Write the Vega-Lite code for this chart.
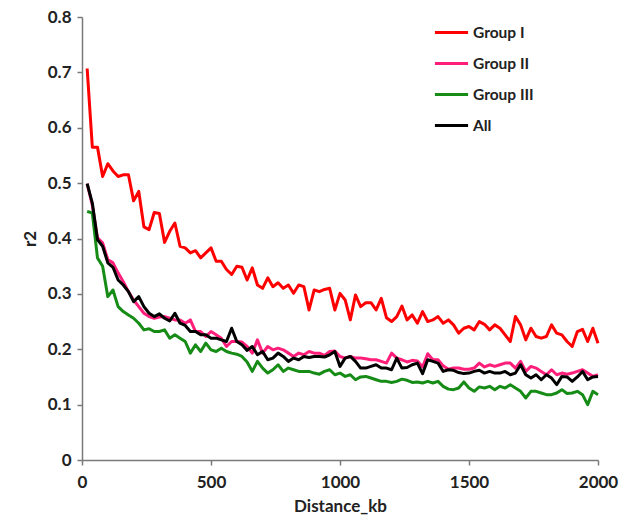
{
  "$schema": "https://vega.github.io/schema/vega-lite/v6.json",
  "autosize": {"type": "none"},
  "width": 516,
  "height": 443,
  "padding": {"left": 82, "top": 17, "right": 23, "bottom": 66},
  "background": "white",
  "config": {
    "view": {"stroke": null},
    "font": "Lato",
    "axis": {
      "grid": false,
      "domainColor": "#7a7a7a",
      "domainWidth": 1.5,
      "tickColor": "#7a7a7a",
      "tickWidth": 1.5,
      "tickSize": 5,
      "labelFont": "Lato",
      "labelFontWeight": "bold",
      "labelFontSize": 17,
      "labelColor": "#222222",
      "titleFont": "Lato",
      "titleFontWeight": "bold",
      "titleFontSize": 17,
      "titleColor": "#222222"
    },
    "legend": {
      "labelFont": "Lato",
      "labelFontWeight": "bold",
      "labelFontSize": 15.5,
      "labelColor": "#222222"
    }
  },
  "data": {
    "values": [
      {"d": 20, "Group I": 0.707, "Group II": 0.499, "Group III": 0.449, "All": 0.499},
      {"d": 40, "Group I": 0.565, "Group II": 0.460, "Group III": 0.446, "All": 0.464},
      {"d": 60, "Group I": 0.565, "Group II": 0.401, "Group III": 0.365, "All": 0.398},
      {"d": 80, "Group I": 0.512, "Group II": 0.392, "Group III": 0.350, "All": 0.386},
      {"d": 100, "Group I": 0.535, "Group II": 0.362, "Group III": 0.295, "All": 0.356},
      {"d": 120, "Group I": 0.522, "Group II": 0.356, "Group III": 0.307, "All": 0.348},
      {"d": 140, "Group I": 0.512, "Group II": 0.338, "Group III": 0.277, "All": 0.325},
      {"d": 160, "Group I": 0.515, "Group II": 0.322, "Group III": 0.268, "All": 0.316},
      {"d": 180, "Group I": 0.515, "Group II": 0.304, "Group III": 0.262, "All": 0.304},
      {"d": 200, "Group I": 0.468, "Group II": 0.289, "Group III": 0.256, "All": 0.286},
      {"d": 220, "Group I": 0.485, "Group II": 0.277, "Group III": 0.247, "All": 0.295},
      {"d": 240, "Group I": 0.421, "Group II": 0.265, "Group III": 0.235, "All": 0.277},
      {"d": 260, "Group I": 0.416, "Group II": 0.259, "Group III": 0.237, "All": 0.265},
      {"d": 280, "Group I": 0.447, "Group II": 0.256, "Group III": 0.232, "All": 0.259},
      {"d": 300, "Group I": 0.445, "Group II": 0.258, "Group III": 0.232, "All": 0.264},
      {"d": 320, "Group I": 0.393, "Group II": 0.259, "Group III": 0.235, "All": 0.256},
      {"d": 340, "Group I": 0.413, "Group II": 0.256, "Group III": 0.220, "All": 0.251},
      {"d": 360, "Group I": 0.428, "Group II": 0.253, "Group III": 0.226, "All": 0.265},
      {"d": 380, "Group I": 0.386, "Group II": 0.253, "Group III": 0.220, "All": 0.247},
      {"d": 400, "Group I": 0.383, "Group II": 0.247, "Group III": 0.214, "All": 0.243},
      {"d": 420, "Group I": 0.374, "Group II": 0.253, "Group III": 0.193, "All": 0.232},
      {"d": 440, "Group I": 0.378, "Group II": 0.232, "Group III": 0.208, "All": 0.232},
      {"d": 460, "Group I": 0.365, "Group II": 0.232, "Group III": 0.196, "All": 0.226},
      {"d": 480, "Group I": 0.374, "Group II": 0.223, "Group III": 0.211, "All": 0.226},
      {"d": 500, "Group I": 0.383, "Group II": 0.232, "Group III": 0.199, "All": 0.220},
      {"d": 520, "Group I": 0.359, "Group II": 0.226, "Group III": 0.196, "All": 0.220},
      {"d": 540, "Group I": 0.359, "Group II": 0.220, "Group III": 0.202, "All": 0.217},
      {"d": 560, "Group I": 0.344, "Group II": 0.205, "Group III": 0.196, "All": 0.214},
      {"d": 580, "Group I": 0.335, "Group II": 0.214, "Group III": 0.193, "All": 0.238},
      {"d": 600, "Group I": 0.350, "Group II": 0.214, "Group III": 0.191, "All": 0.214},
      {"d": 620, "Group I": 0.348, "Group II": 0.213, "Group III": 0.187, "All": 0.208},
      {"d": 640, "Group I": 0.325, "Group II": 0.205, "Group III": 0.177, "All": 0.198},
      {"d": 660, "Group I": 0.347, "Group II": 0.193, "Group III": 0.160, "All": 0.205},
      {"d": 680, "Group I": 0.316, "Group II": 0.217, "Group III": 0.178, "All": 0.190},
      {"d": 700, "Group I": 0.310, "Group II": 0.193, "Group III": 0.166, "All": 0.196},
      {"d": 720, "Group I": 0.329, "Group II": 0.205, "Group III": 0.157, "All": 0.181},
      {"d": 740, "Group I": 0.313, "Group II": 0.199, "Group III": 0.163, "All": 0.184},
      {"d": 760, "Group I": 0.320, "Group II": 0.202, "Group III": 0.172, "All": 0.193},
      {"d": 780, "Group I": 0.310, "Group II": 0.199, "Group III": 0.160, "All": 0.187},
      {"d": 800, "Group I": 0.316, "Group II": 0.193, "Group III": 0.166, "All": 0.178},
      {"d": 820, "Group I": 0.301, "Group II": 0.187, "Group III": 0.163, "All": 0.184},
      {"d": 840, "Group I": 0.316, "Group II": 0.193, "Group III": 0.160, "All": 0.181},
      {"d": 860, "Group I": 0.313, "Group II": 0.190, "Group III": 0.160, "All": 0.187},
      {"d": 880, "Group I": 0.271, "Group II": 0.196, "Group III": 0.160, "All": 0.185},
      {"d": 900, "Group I": 0.307, "Group II": 0.193, "Group III": 0.157, "All": 0.187},
      {"d": 920, "Group I": 0.304, "Group II": 0.193, "Group III": 0.155, "All": 0.187},
      {"d": 940, "Group I": 0.308, "Group II": 0.189, "Group III": 0.160, "All": 0.186},
      {"d": 960, "Group I": 0.310, "Group II": 0.196, "Group III": 0.163, "All": 0.190},
      {"d": 980, "Group I": 0.271, "Group II": 0.197, "Group III": 0.154, "All": 0.196},
      {"d": 1000, "Group I": 0.301, "Group II": 0.187, "Group III": 0.157, "All": 0.169},
      {"d": 1020, "Group I": 0.289, "Group II": 0.184, "Group III": 0.151, "All": 0.184},
      {"d": 1040, "Group I": 0.253, "Group II": 0.187, "Group III": 0.154, "All": 0.187},
      {"d": 1060, "Group I": 0.298, "Group II": 0.184, "Group III": 0.145, "All": 0.178},
      {"d": 1080, "Group I": 0.277, "Group II": 0.184, "Group III": 0.150, "All": 0.166},
      {"d": 1100, "Group I": 0.284, "Group II": 0.183, "Group III": 0.151, "All": 0.166},
      {"d": 1120, "Group I": 0.284, "Group II": 0.181, "Group III": 0.148, "All": 0.169},
      {"d": 1140, "Group I": 0.271, "Group II": 0.181, "Group III": 0.145, "All": 0.172},
      {"d": 1160, "Group I": 0.292, "Group II": 0.178, "Group III": 0.142, "All": 0.166},
      {"d": 1180, "Group I": 0.257, "Group II": 0.175, "Group III": 0.142, "All": 0.166},
      {"d": 1200, "Group I": 0.250, "Group II": 0.193, "Group III": 0.140, "All": 0.163},
      {"d": 1220, "Group I": 0.259, "Group II": 0.184, "Group III": 0.142, "All": 0.184},
      {"d": 1240, "Group I": 0.278, "Group II": 0.181, "Group III": 0.146, "All": 0.166},
      {"d": 1260, "Group I": 0.253, "Group II": 0.177, "Group III": 0.144, "All": 0.167},
      {"d": 1280, "Group I": 0.262, "Group II": 0.180, "Group III": 0.140, "All": 0.172},
      {"d": 1300, "Group I": 0.247, "Group II": 0.179, "Group III": 0.141, "All": 0.175},
      {"d": 1320, "Group I": 0.268, "Group II": 0.168, "Group III": 0.139, "All": 0.156},
      {"d": 1340, "Group I": 0.250, "Group II": 0.192, "Group III": 0.142, "All": 0.181},
      {"d": 1360, "Group I": 0.253, "Group II": 0.181, "Group III": 0.139, "All": 0.178},
      {"d": 1380, "Group I": 0.259, "Group II": 0.181, "Group III": 0.142, "All": 0.175},
      {"d": 1400, "Group I": 0.247, "Group II": 0.170, "Group III": 0.133, "All": 0.160},
      {"d": 1420, "Group I": 0.253, "Group II": 0.164, "Group III": 0.128, "All": 0.163},
      {"d": 1440, "Group I": 0.244, "Group II": 0.166, "Group III": 0.127, "All": 0.162},
      {"d": 1460, "Group I": 0.229, "Group II": 0.166, "Group III": 0.130, "All": 0.158},
      {"d": 1480, "Group I": 0.238, "Group II": 0.164, "Group III": 0.141, "All": 0.156},
      {"d": 1500, "Group I": 0.241, "Group II": 0.164, "Group III": 0.130, "All": 0.157},
      {"d": 1520, "Group I": 0.235, "Group II": 0.166, "Group III": 0.124, "All": 0.160},
      {"d": 1540, "Group I": 0.250, "Group II": 0.175, "Group III": 0.132, "All": 0.162},
      {"d": 1560, "Group I": 0.245, "Group II": 0.168, "Group III": 0.130, "All": 0.157},
      {"d": 1580, "Group I": 0.235, "Group II": 0.172, "Group III": 0.133, "All": 0.160},
      {"d": 1600, "Group I": 0.244, "Group II": 0.169, "Group III": 0.127, "All": 0.157},
      {"d": 1620, "Group I": 0.238, "Group II": 0.172, "Group III": 0.133, "All": 0.157},
      {"d": 1640, "Group I": 0.226, "Group II": 0.175, "Group III": 0.130, "All": 0.160},
      {"d": 1660, "Group I": 0.214, "Group II": 0.175, "Group III": 0.136, "All": 0.154},
      {"d": 1680, "Group I": 0.259, "Group II": 0.166, "Group III": 0.130, "All": 0.157},
      {"d": 1700, "Group I": 0.244, "Group II": 0.178, "Group III": 0.124, "All": 0.172},
      {"d": 1720, "Group I": 0.217, "Group II": 0.160, "Group III": 0.112, "All": 0.154},
      {"d": 1740, "Group I": 0.238, "Group II": 0.169, "Group III": 0.124, "All": 0.148},
      {"d": 1760, "Group I": 0.223, "Group II": 0.166, "Group III": 0.124, "All": 0.154},
      {"d": 1780, "Group I": 0.220, "Group II": 0.160, "Group III": 0.121, "All": 0.145},
      {"d": 1800, "Group I": 0.223, "Group II": 0.154, "Group III": 0.118, "All": 0.154},
      {"d": 1820, "Group I": 0.244, "Group II": 0.163, "Group III": 0.118, "All": 0.148},
      {"d": 1840, "Group I": 0.229, "Group II": 0.154, "Group III": 0.121, "All": 0.136},
      {"d": 1860, "Group I": 0.226, "Group II": 0.157, "Group III": 0.127, "All": 0.151},
      {"d": 1880, "Group I": 0.214, "Group II": 0.155, "Group III": 0.120, "All": 0.150},
      {"d": 1900, "Group I": 0.205, "Group II": 0.157, "Group III": 0.121, "All": 0.142},
      {"d": 1920, "Group I": 0.232, "Group II": 0.160, "Group III": 0.124, "All": 0.150},
      {"d": 1940, "Group I": 0.236, "Group II": 0.163, "Group III": 0.118, "All": 0.160},
      {"d": 1960, "Group I": 0.214, "Group II": 0.157, "Group III": 0.100, "All": 0.145},
      {"d": 1980, "Group I": 0.238, "Group II": 0.151, "Group III": 0.124, "All": 0.150},
      {"d": 2000, "Group I": 0.211, "Group II": 0.154, "Group III": 0.118, "All": 0.151}
    ]
  },
  "transform": [
    {"fold": ["Group I", "Group II", "Group III", "All"], "as": ["group", "r2"]}
  ],
  "mark": {"type": "line", "strokeWidth": 3, "strokeJoin": "round"},
  "encoding": {
    "x": {
      "field": "d",
      "type": "quantitative",
      "title": "Distance_kb",
      "scale": {"domain": [0, 2000], "nice": false},
      "axis": {"values": [0, 500, 1000, 1500, 2000], "format": "d", "labelPadding": 9, "titlePadding": 8, "labelFlush": false}
    },
    "y": {
      "field": "r2",
      "type": "quantitative",
      "title": "r2",
      "scale": {"domain": [0, 0.8], "nice": false},
      "axis": {"values": [0, 0.1, 0.2, 0.3, 0.4, 0.5, 0.6, 0.7, 0.8], "format": "~g", "labelPadding": 6, "titlePadding": 8, "labelFlush": false}
    },
    "color": {
      "field": "group",
      "type": "nominal",
      "scale": {
        "domain": ["Group I", "Group II", "Group III", "All"],
        "range": ["#ff0000", "#ff1f7a", "#168c16", "#000000"]
      },
      "legend": {
        "title": null,
        "orient": "none",
        "legendX": 351,
        "legendY": -3,
        "padding": 0,
        "symbolType": "stroke",
        "symbolSize": 1100,
        "symbolStrokeWidth": 3,
        "rowPadding": 4,
        "labelOffset": 3
      }
    }
  }
}
